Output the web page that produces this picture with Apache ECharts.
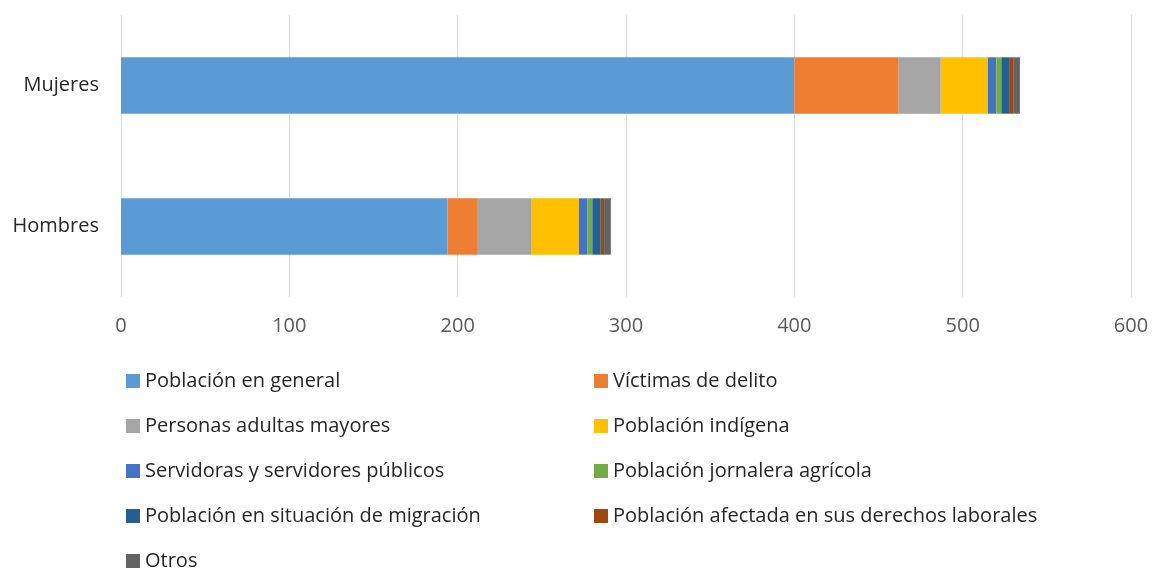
<!DOCTYPE html>
<html><head><meta charset="utf-8">
<script src="https://cdn.jsdelivr.net/npm/echarts@6/dist/echarts.min.js"></script>
<style>html,body{margin:0;padding:0;background:#fff}#c{width:1153px;height:569px}</style>
</head><body><div id="c"></div>
<script>
const categories = ['Hombres', 'Mujeres'];
const seriesNames = ['Población en general','Víctimas de delito','Personas adultas mayores','Población indígena','Servidoras y servidores públicos','Población jornalera agrícola','Población en situación de migración','Población afectada en sus derechos laborales','Otros'];
const poblacionGeneral = [194, 400];
const victimas = [18, 62];
const adultasMayores = [32, 25];
const indigena = [28, 28];
const servidores = [5, 5];
const jornalera = [3, 3];
const migracion = [5, 5];
const laborales = [2, 2];
const otros = [4, 4];
const xTicks = [0, 100, 200, 300, 400, 500, 600];
const colors = ['#5B9BD5','#ED7D31','#A5A5A5','#FFC000','#4472C4','#70AD47','#255E91','#9E480E','#636363'];
const values = [poblacionGeneral, victimas, adultasMayores, indigena, servidores, jornalera, migracion, laborales, otros];

const font = 'Open Sans';
const leftCol = [0,2,4,6,8].map(i => seriesNames[i]);
const rightCol = [1,3,5,7].map(i => seriesNames[i]);
const legendBase = {
  orient: 'vertical', top: 371, height: 300, itemWidth: 14, itemHeight: 14, itemGap: 25,
  icon: 'rect', padding: 0,
  textStyle: { fontFamily: font, fontSize: 20, color: '#262626' }
};
const chart = echarts.init(document.getElementById('c'));
chart.setOption({
  animation: false,
  color: colors,
  grid: { left: 121, right: 22, top: 15, bottom: 272, containLabel: false },
  xAxis: {
    type: 'value', min: xTicks[0], max: xTicks[xTicks.length-1], interval: 100,
    axisLine: { show: false }, axisTick: { show: false },
    splitLine: { lineStyle: { color: '#D9D9D9', width: 1 } },
    axisLabel: { fontFamily: font, fontSize: 20, color: '#595959', margin: 19 }
  },
  yAxis: {
    type: 'category', data: categories,
    axisLine: { show: false }, axisTick: { show: false },
    axisLabel: { fontFamily: font, fontSize: 20, color: '#262626', margin: 22 }
  },
  legend: [
    Object.assign({}, legendBase, { left: 126, data: leftCol }),
    Object.assign({}, legendBase, { left: 594, data: rightCol })
  ],
  series: seriesNames.map((n, i) => ({
    name: n, type: 'bar', stack: 'total', data: values[i], barWidth: '40%',
    itemStyle: { color: colors[i] }
  }))
});
</script></body></html>
